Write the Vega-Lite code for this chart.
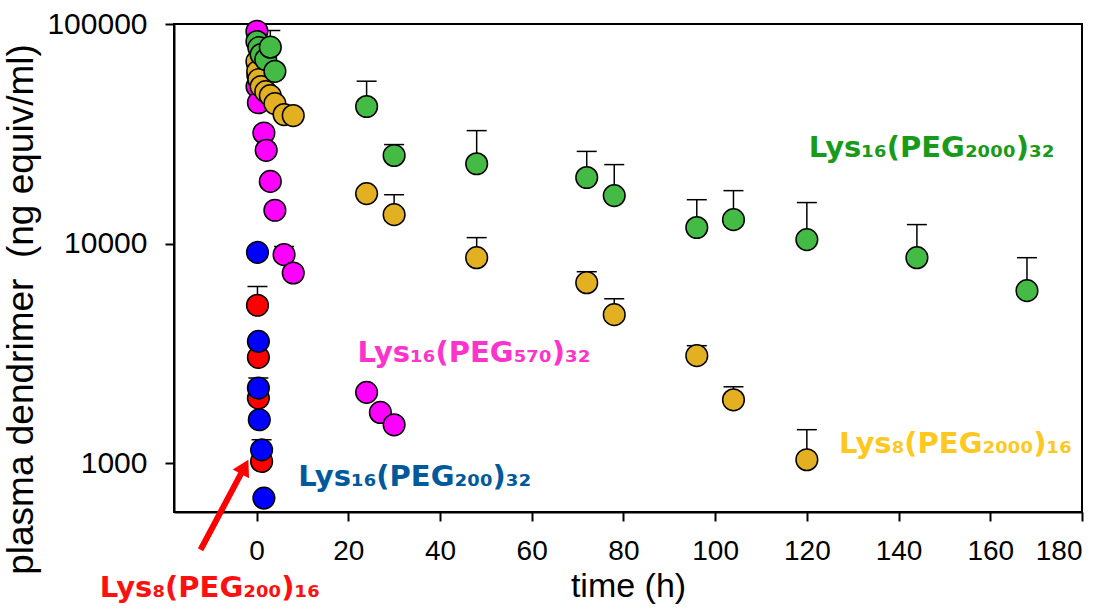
{
  "$schema": "https://vega.github.io/schema/vega-lite/v6.json",
  "width": 908,
  "height": 488,
  "autosize": {"type": "none"},
  "padding": {"left": 174, "top": 24, "right": 28, "bottom": 97},
  "background": "white",
  "config": {
    "view": {"stroke": "black", "strokeWidth": 2},
    "axis": {
      "domainColor": "black", "domainWidth": 2, "tickColor": "black", "tickWidth": 2, "tickSize": 9,
      "labelColor": "black", "labelFont": "Liberation Sans", "labelFontSize": 28,
      "titleFont": "Liberation Sans", "titleFontWeight": "normal", "titleColor": "black", "grid": false
    },
    "axisX": {"labelPadding": 16, "titleFontSize": 34, "titlePadding": 4},
    "axisY": {"labelPadding": 18, "labelFontSize": 30, "titleFontSize": 37, "titlePadding": 6, "titleY": 285}
  },
  "datasets": {
    "pts": [
      {"s": "L8P200", "t": 0.3, "c": 58200},
      {"s": "L8P200", "t": 0.2, "c": 5240, "up": 6380},
      {"s": "L8P200", "t": 0.4, "c": 3035},
      {"s": "L8P200", "t": 0.4, "c": 1980},
      {"s": "L8P200", "t": 1.1, "c": 1019},
      {"s": "L16P200", "t": 0.2, "c": 9120},
      {"s": "L16P200", "t": 0.4, "c": 3590},
      {"s": "L16P200", "t": 0.4, "c": 2200, "up": 2445},
      {"s": "L16P200", "t": 0.6, "c": 1578},
      {"s": "L16P200", "t": 1.1, "c": 1151, "up": 1280},
      {"s": "L16P200", "t": 1.6, "c": 694},
      {"s": "L16P570", "t": 0.083, "c": 92700, "up": 98700},
      {"s": "L16P570", "t": 0.25, "c": 66000},
      {"s": "L16P570", "t": 0.1, "c": 51900},
      {"s": "L16P570", "t": 0.4, "c": 43800},
      {"s": "L16P570", "t": 1.6, "c": 31900},
      {"s": "L16P570", "t": 2.1, "c": 26600},
      {"s": "L16P570", "t": 3, "c": 19200},
      {"s": "L16P570", "t": 4, "c": 14190},
      {"s": "L16P570", "t": 6, "c": 8910, "up": 9700},
      {"s": "L16P570", "t": 8, "c": 7350},
      {"s": "L16P570", "t": 24, "c": 2103, "up": 2200},
      {"s": "L16P570", "t": 27, "c": 1704},
      {"s": "L16P570", "t": 30, "c": 1497},
      {"s": "L8P2000", "t": 0.083, "c": 67500},
      {"s": "L8P2000", "t": 0.25, "c": 60800},
      {"s": "L8P2000", "t": 0.5, "c": 55900},
      {"s": "L8P2000", "t": 1, "c": 51900},
      {"s": "L8P2000", "t": 2, "c": 49200},
      {"s": "L8P2000", "t": 3, "c": 47200},
      {"s": "L8P2000", "t": 4, "c": 43400},
      {"s": "L8P2000", "t": 6, "c": 38700},
      {"s": "L8P2000", "t": 8, "c": 38300},
      {"s": "L8P2000", "t": 24, "c": 16900},
      {"s": "L8P2000", "t": 30, "c": 13550, "up": 16700},
      {"s": "L8P2000", "t": 48, "c": 8630, "up": 10650},
      {"s": "L8P2000", "t": 72, "c": 6640, "up": 7450},
      {"s": "L8P2000", "t": 78, "c": 4750, "up": 5610},
      {"s": "L8P2000", "t": 96, "c": 3090, "up": 3430},
      {"s": "L8P2000", "t": 104, "c": 1945, "up": 2230},
      {"s": "L8P2000", "t": 120, "c": 1038, "up": 1422},
      {"s": "L16P2000", "t": 0.083, "c": 83200, "up": 88000},
      {"s": "L16P2000", "t": 0.5, "c": 78000},
      {"s": "L16P2000", "t": 1, "c": 72600},
      {"s": "L16P2000", "t": 2, "c": 68900},
      {"s": "L16P2000", "t": 3, "c": 78400, "up": 93400},
      {"s": "L16P2000", "t": 4, "c": 60900},
      {"s": "L16P2000", "t": 24, "c": 42100, "up": 54900},
      {"s": "L16P2000", "t": 30, "c": 25200, "up": 28250},
      {"s": "L16P2000", "t": 48, "c": 23100, "up": 32700},
      {"s": "L16P2000", "t": 72, "c": 20000, "up": 26300},
      {"s": "L16P2000", "t": 78, "c": 16550, "up": 22900},
      {"s": "L16P2000", "t": 96, "c": 11840, "up": 15850},
      {"s": "L16P2000", "t": 104, "c": 12860, "up": 17430},
      {"s": "L16P2000", "t": 120, "c": 10430, "up": 15380},
      {"s": "L16P2000", "t": 144, "c": 8630, "up": 12210},
      {"s": "L16P2000", "t": 168, "c": 6110, "up": 8630}
    ],
    "labels": [
      {"s": "L16P2000", "label": "Lys₁₆(PEG₂₀₀₀)₃₂", "t": 120.4, "c": 24700},
      {"s": "L16P570", "label": "Lys₁₆(PEG₅₇₀)₃₂", "t": 22.0, "c": 2880},
      {"s": "L16P200", "label": "Lys₁₆(PEG₂₀₀)₃₂", "t": 9.1, "c": 790},
      {"s": "L8P2000", "label": "Lys₈(PEG₂₀₀₀)₁₆", "t": 127.0, "c": 1112},
      {"s": "L8P200", "label": "Lys₈(PEG₂₀₀)₁₆", "t": -34.2, "c": 247}
    ],
    "arrow": [
      {"t": -12.2, "c": 404, "t2": -2.6, "c2": 963}
    ]
  },
  "encoding": {
    "x": {
      "field": "t", "type": "quantitative",
      "scale": {"domain": [-18, 180], "nice": false, "zero": false},
      "axis": {"values": [0, 20, 40, 60, 80, 100, 120, 140, 160, 180], "title": "time (h)"}
    }
  },
  "layer": [
    {
      "data": {"name": "pts"},
      "transform": [{"filter": "isValid(datum.up)"}],
      "mark": {"type": "rule", "color": "black", "strokeWidth": 1.5},
      "encoding": {
        "y": {"field": "c", "type": "quantitative", "scale": {"type": "log", "domain": [600, 100000], "nice": false},
              "axis": {"values": [1000, 10000, 100000], "format": "d", "title": "plasma dendrimer\u00a0 (ng equiv/ml)"}},
        "y2": {"field": "up"}
      }
    },
    {
      "data": {"name": "pts"},
      "transform": [{"filter": "isValid(datum.up)"}],
      "mark": {"type": "tick", "orient": "horizontal", "color": "black", "size": 20, "thickness": 1.5, "opacity": 1},
      "encoding": {
        "y": {"field": "up", "type": "quantitative",
              "axis": {"values": [1000, 10000, 100000], "format": "d", "title": "plasma dendrimer\u00a0 (ng equiv/ml)"}}
      }
    },
    {
      "data": {"name": "pts"},
      "mark": {"type": "point", "shape": "circle", "filled": true, "size": 470, "stroke": "black", "strokeWidth": 1.5, "opacity": 1},
      "encoding": {
        "y": {"field": "c", "type": "quantitative",
              "axis": {"values": [1000, 10000, 100000], "format": "d", "title": "plasma dendrimer\u00a0 (ng equiv/ml)"}},
        "fill": {"field": "s", "type": "nominal", "legend": null,
                 "scale": {"domain": ["L8P200", "L16P200", "L16P570", "L8P2000", "L16P2000"],
                           "range": ["#ff0000", "#0000ff", "#ff00ff", "#e3b022", "#44bb44"]}}
      }
    },
    {
      "data": {"name": "arrow"},
      "mark": {"type": "rule", "color": "#ff0000", "strokeWidth": 6},
      "encoding": {
        "y": {"field": "c", "type": "quantitative",
              "axis": {"values": [1000, 10000, 100000], "format": "d", "title": "plasma dendrimer\u00a0 (ng equiv/ml)"}},
        "x2": {"field": "t2"},
        "y2": {"field": "c2"}
      }
    },
    {
      "data": {"name": "arrow"},
      "mark": {"type": "point", "shape": "triangle-up", "filled": true, "color": "#ff0000", "size": 340, "angle": 28, "opacity": 1},
      "encoding": {
        "x": {"field": "t2", "type": "quantitative"},
        "y": {"field": "c2", "type": "quantitative",
              "axis": {"values": [1000, 10000, 100000], "format": "d", "title": "plasma dendrimer\u00a0 (ng equiv/ml)"}}
      }
    },
    {
      "data": {"name": "labels"},
      "mark": {"type": "text", "align": "left", "baseline": "alphabetic", "font": "DejaVu Sans", "fontWeight": "bold", "fontSize": 29},
      "encoding": {
        "y": {"field": "c", "type": "quantitative",
              "axis": {"values": [1000, 10000, 100000], "format": "d", "title": "plasma dendrimer\u00a0 (ng equiv/ml)"}},
        "text": {"field": "label"},
        "color": {"field": "s", "type": "nominal", "legend": null,
                  "scale": {"domain": ["L8P200", "L16P200", "L16P570", "L8P2000", "L16P2000"],
                            "range": ["#ff1010", "#00599a", "#ff33cc", "#ffc81e", "#1a9a1a"]}}
      }
    }
  ]
}
